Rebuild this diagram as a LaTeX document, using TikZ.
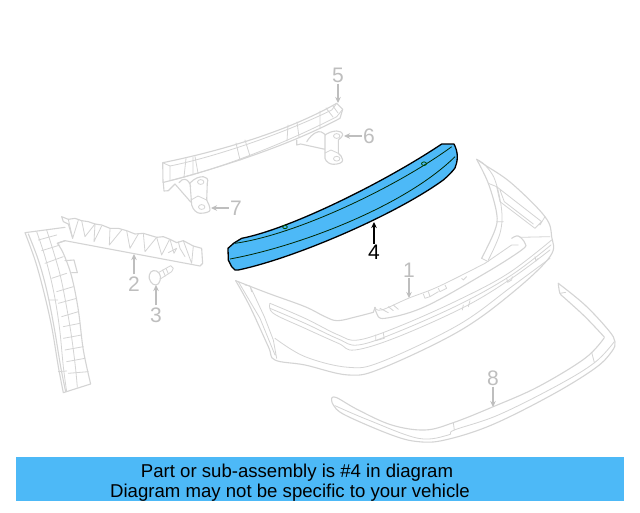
\documentclass[tikz,border=0pt]{standalone}
\usepackage{fontspec}
\setmainfont{Liberation Sans}
\usetikzlibrary{arrows.meta}
\definecolor{partblue}{HTML}{4DB9F7}
\definecolor{ghost}{HTML}{D4D4D4}
\definecolor{ghosttxt}{HTML}{BEBEBE}
\tikzset{
  ghostline/.style={draw=ghost,line width=1.1pt,line join=round,line cap=round},
  thin ghost/.style={draw=ghost,line width=.8pt,line join=round,line cap=round},
  lab/.style={font=\fontsize{21}{21}\selectfont,text=ghosttxt,inner sep=0pt},
  labon/.style={font=\fontsize{21}{21}\selectfont,text=black,inner sep=0pt},
  ghostarrow/.style={draw=ghosttxt,line width=1.1pt,-{Stealth[length=6pt,width=5.5pt]}},
  blackarrow/.style={draw=black,line width=1.2pt,-{Stealth[length=6pt,width=5.5pt]}},
  banner text/.style={font=\fontsize{18.6}{20}\selectfont,text=black,inner sep=0pt,anchor=base},
  sm/.style={smooth,tension=.6},
}
\begin{document}
\begin{tikzpicture}[x=1pt,y=-1pt]
\useasboundingbox (0,0) rectangle (640,512);
\fill[white] (0,0) rectangle (640,512);

% ---- part 5 reinforcement
\draw[ghostline] (162.7,162.7) .. controls (225,150) and (290,130) .. (336.7,103.3) -- (342.7,109.3) -- (340,118.3) .. controls (290,145) and (220,168) .. (163,182.5) -- cycle;
\draw[thin ghost] (162.7,162.7) -- (170,166) .. controls (215,157) and (285,133) .. (331.7,110) -- (336.7,103.3);
\draw[thin ghost] (170,166) -- (170,180.7) .. controls (215,170) and (280,146) .. (336.7,116.7) -- (342.7,109.3);
\draw[thin ghost] (186,158.5) -- (184,177) (195,156.5) -- (198,173) (193,157) -- (193,175)
  (236,143) -- (240,160) (240,160) -- (250,156) -- (245,140) (288,125) -- (287,141) (297,122) -- (299,137) (326,108) -- (333,117) (333,106) -- (338,113) (320,111) -- (320,128);
% bracket 6
\draw[ghostline] (296.7,140) -- (296.7,145) -- (300.7,144) -- (325,149.3) (325.7,135) .. controls (322,132) and (320,131) .. (318.3,131.7) .. controls (313,133) and (309,138) .. (306.7,141.7)
 (325,135) -- (325,158.3) .. controls (326,162) and (330,164.3) .. (333.3,164.3) .. controls (338,164.3) and (342.7,163) .. (342.7,160) .. controls (342.7,157) and (340,155) .. (338.3,153.3) -- (338.3,140) .. controls (340,138) and (342.7,137) .. (342.7,135) .. controls (342.7,132) and (339,131) .. (336.7,131) .. controls (332,131) and (328,133) .. (325,135);
\draw[thin ghost] (336.7,136) ellipse (3.2 and 2.4) (336.7,158.7) ellipse (3.2 and 2.4) (325,153) -- (331,150) -- (338.3,153.3);
% bracket 7
\draw[ghostline] (163.3,182.7) -- (164,191) -- (168.3,190.7) -- (175,184) -- (190.7,202) (179,182.7) .. controls (181,180) and (183,179) .. (185,179.3) .. controls (188,180) and (190,183) .. (190.7,186.7)
 (190,183) -- (191.7,205) .. controls (193,210) and (197,213.3) .. (200,213.3) .. controls (205,213.3) and (210,212) .. (210,210) .. controls (210,206) and (208,203) .. (206.7,200) -- (207.3,183) .. controls (209,179) and (206,176.7) .. (203.3,176.7) .. controls (199,176.7) and (195,178) .. (190,183);
\draw[thin ghost] (200.7,182) ellipse (3.2 and 2.4) (201.7,207) ellipse (3.2 and 2.4) (191,200) -- (198,196) -- (206.7,200);

% ---- parts 2, 3 and strip (zoom frame)
\begin{scope}[shift={(20,210)},x=.3333pt,y=-.3333pt]
\draw[ghostline] (125,20) -- (130,35) -- (145,42) -- (158,85)
  (125,20) -- (145,28) -- (165,25) -- (185,32) -- (205,35) -- (225,42) -- (245,45) -- (270,55) -- (295,55) -- (320,62) -- (345,72) -- (370,70) -- (410,82) -- (430,80) -- (450,88) -- (470,98) -- (490,92) -- (520,108) -- (545,115) -- (548,160) -- (540,168) -- (135,92) -- (112,100);
\foreach \ax/\ay/\bx/\by/\cx/\cy in {145/28/158/85/175/30, 185/32/195/80/225/42, 225/42/222/95/245/48, 270/55/268/105/305/60, 320/62/330/115/355/72, 370/70/375/125/410/82, 410/82/425/135/448/90}{
  \draw[thin ghost] (\ax,\ay) -- (\bx,\by) -- (\cx,\cy);
}
\draw[thin ghost] (450,88) -- (462,130) -- (470,115) -- (445,128) (490,92) -- (515,160) -- (520,108) (475,95) -- (480,115) -- (495,140);
% strip
\draw[ghostline] (135,52) -- (15,68) (15,68) plot[sm] coordinates {(15,68) (45,150) (70,240) (95,350) (115,470) (130,548)} -- (212,522) plot[sm] coordinates {(212,522) (190,420) (175,300) (155,200) (130,130) (112,100)} -- (135,92);
\draw[ghostline] plot[sm] coordinates {(25,72) (55,150) (80,240) (102,350) (122,470) (137,545)};
\draw[thin ghost] plot[sm] coordinates {(50,65) (75,140) (100,240) (118,350) (130,470) (140,545)};
\draw[thin ghost] plot[sm] coordinates {(80,60) (105,140) (125,215) (150,350) (165,460) (172,532)};
\draw[ghostline] (135,152) -- (162,150) -- (172,188) -- (155,188);
\foreach \ax/\ay/\bx/\by in {55/90/110/75, 65/122/120/105, 75/160/130/140, 95/205/140/190, 110/245/160/230, 115/280/170/265, 125/320/175/305, 130/350/180/340, 130/385/185/375, 135/420/190/410, 140/455/195/445, 145/490/205/485}{
  \draw[thin ghost] (\ax,\ay) -- (\bx,\by);
}
\draw[thin ghost] (88,270) -- (113,270) (115,485) -- (140,483);
% bolt
\draw[ghostline] plot[smooth cycle,tension=.8] coordinates {(388,195) (400,182) (418,190) (420,212) (408,225) (392,215)};
\draw[thin ghost] (415,188) -- (452,167) -- (460,175) -- (455,185) -- (421,207);
\draw[thin ghost] (428,180) -- (436,198) (438,175) -- (445,191);
\end{scope}

% ---- part 1 bumper (zoom frame)
\begin{scope}[shift={(225,150)},x=.3333pt,y=-.3333pt]
\draw[ghostline] plot[sm] coordinates {(32,392) (130,430) (240,470) (300,500) (338,512) (395,500) (445,487)} -- (450,472);
\draw[ghostline] (32,392) plot[sm] coordinates {(32,392) (75,470) (130,590) (150,630) (240,645) (370,675) (470,655) (700,545) (860,430) (975,320) (980,260) (960,200) (860,100) (780,45) (755,28)};
\draw[ghostline] plot[sm] coordinates {(450,472) (455,490) (480,505) (600,470) (780,370) (890,300) (900,280) (880,258) (860,265)};
\draw[thin ghost] plot[sm] coordinates {(450,472) (470,480) (550,445) (640,410) (780,340)};
\draw[thin ghost] (780,340) -- (860,285) -- (880,285);
% trunk opening
\draw[ghostline] plot[sm] coordinates {(755,28) (790,100) (815,190) (810,240) (770,325)};
\draw[thin ghost] plot[sm] coordinates {(755,28) (780,45) (810,90) (830,180) (825,250) (790,330)} (770,325) -- (790,335);
\draw[thin ghost] (815,110) -- (825,155) -- (930,235) -- (950,215) -- cycle (825,120) -- (838,155) -- (925,222) (960,200) -- (945,225);
\draw[thin ghost] (885,262) -- (975,260) (790,100) -- (815,110) (815,215) -- (835,215);
% belts
\draw[thin ghost] plot[sm] coordinates {(135,460) (240,505) (340,555) (400,570) (520,530) (700,450) (850,370) (980,270)};
\draw[thin ghost] plot[sm] coordinates {(135,460) (145,490) (240,535) (340,580) (390,600) (520,560) (720,470) (860,385) (975,300)};
\draw[thin ghost] plot[sm] coordinates {(135,475) (240,520) (340,567) (400,585) (520,545) (710,460) (860,375) (978,285)};
\draw[thin ghost] plot[sm] coordinates {(150,565) (240,620) (370,652) (470,635) (700,525) (860,410) (975,325)};
% left side
\draw[thin ghost] (60,405) -- (75,408) -- (80,425) (40,395) -- (105,505) -- (150,615) (75,408) -- (118,500) -- (145,570) -- (155,625);
% details
\draw[thin ghost] (465,475) -- (490,488) (490,470) -- (505,482) (505,465) -- (520,478);
\draw[thin ghost] (595,432) -- (600,445) -- (615,440) -- (610,425) (615,440) -- (640,425) (640,415) -- (645,425) -- (665,415) -- (660,405) (710,385) -- (715,390) -- (725,380);
\draw[thin ghost] (452,555) -- (452,572) -- (478,565) -- (475,550) (715,465) -- (712,480) (735,452) -- (730,470);
\draw[thin ghost] (845,385) -- (848,397) -- (860,390) -- (862,380) (930,320) -- (933,333) -- (940,325);
\end{scope}

% ---- part 8 trim (zoom frame)
\begin{scope}[shift={(325,275)},x=.3333pt,y=-.3333pt]
\draw[ghostline] plot[sm] coordinates {(20,370) (35,368) (100,405) (200,450) (300,465) (385,443) (505,395) (640,335) (780,250) (838,188)};
\draw[ghostline] plot[sm] coordinates {(838,186) (780,125) (720,70) (705,55) (700,25)};
\draw[ghostline] plot[sm] coordinates {(700,25) (780,90) (850,165) (870,200) (860,230) (810,280) (680,360) (500,450) (360,495) (280,500) (200,480) (60,420) (25,390) (20,370)};
\draw[thin ghost] plot[sm] coordinates {(30,392) (130,435) (280,490) (370,480) (388,465) (520,420) (700,330) (810,262) (868,200)};
\draw[thin ghost] (385,443) -- (388,465) (800,232) -- (808,262) (705,55) -- (722,52);
\end{scope}

% ---- part 4, highlighted
\draw[fill=partblue,draw=black,line width=1.3pt,line join=round] (228,248.3) -- (234,243) -- (241.7,238.3) .. controls (290,229) and (385,182) .. (441.7,144) -- (454,144) .. controls (456,148) and (457.3,152) .. (457.3,156.7) .. controls (457.3,162) and (456,165) .. (455,168) .. controls (452,172) and (448,176) .. (443.3,180) .. controls (395,215) and (295,258) .. (238.3,270) -- (235,270) -- (231.7,266.7) -- (228.3,260) -- cycle;
\draw[draw=black!85!green,line width=.8pt] (235,243.3) .. controls (295,235) and (395,188) .. (451.7,146.7);
\draw[draw=black!85!green,line width=.8pt] (230,259) .. controls (300,246) and (405,206) .. (455,156.7);
\draw[draw=black!70!green,line width=.8pt] (285,227) ellipse (2.3 and 1.7) (424,163.7) ellipse (2.5 and 1.8);

% ---- labels
\coordinate (t5) at (338,103);
\coordinate (t6) at (344,136);
\coordinate (t7) at (211,208);
\coordinate (t2) at (134,254);
\coordinate (t3) at (156,285);
\coordinate (t4) at (374,222);
\coordinate (t1) at (409,298);
\coordinate (t8) at (493,407);
\node[lab] (n5) at (338,75) {5};
\node[lab] (n6) at (369,136) {6};
\node[lab] (n7) at (236,208) {7};
\node[lab] (n2) at (134,284) {2};
\node[lab] (n3) at (156,315) {3};
\node[labon] (n4) at (374,252) {4};
\node[lab] (n1) at (409,270) {1};
\node[lab] (n8) at (493,378) {8};
\draw[ghostarrow] (n5.south) ++(0,1) -- (t5);
\draw[ghostarrow] (n6.west) ++(-1,0) -- (t6);
\draw[ghostarrow] (n7.west) ++(-1,0) -- (t7);
\draw[ghostarrow] (n2.north) ++(0,-2) -- (t2);
\draw[ghostarrow] (n3.north) ++(0,-2) -- (t3);
\draw[ghostarrow] (n1.south) ++(0,1) -- (t1);
\draw[ghostarrow] (n8.south) ++(0,1) -- (t8);
\draw[blackarrow] (n4.north) ++(0,-1) -- (t4);

% ---- banner
\fill[partblue] (16,457) rectangle (624,501);
\node[banner text] (b1) at (297,477) {Part or sub-assembly is \#4 in diagram};
\node[banner text] (b2) at (290,497) {Diagram may not be specific to your vehicle};
\end{tikzpicture}
\end{document}
